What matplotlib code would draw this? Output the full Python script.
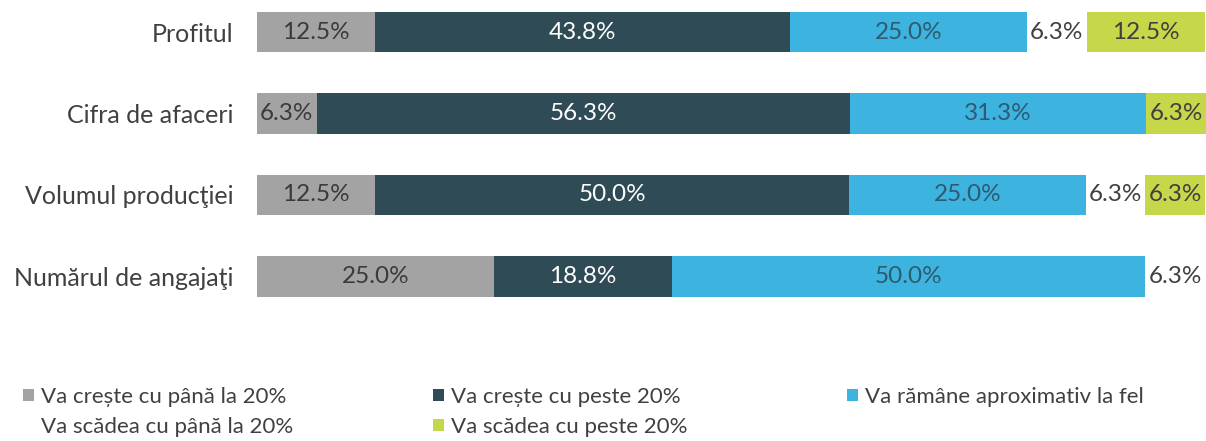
import matplotlib

matplotlib.use("Agg")
import matplotlib.pyplot as plt
from matplotlib.patches import Patch

CATEGORIES = ["Profitul", "Cifra de afaceri", "Volumul producţiei", "Numărul de angajaţi"]
SERIES = [
    "Va crește cu până la 20%",
    "Va crește cu peste 20%",
    "Va rămâne aproximativ la fel",
    "Va scădea cu până la 20%",
    "Va scădea cu peste 20%",
]
CRESTE_PANA = [12.5, 6.3, 12.5, 25.0]
CRESTE_PESTE = [43.8, 56.3, 50.0, 18.8]
RAMANE = [25.0, 31.3, 25.0, 50.0]
SCADE_PANA = [6.3, 0.0, 6.3, 6.3]
SCADE_PESTE = [12.5, 6.3, 6.3, 0.0]

COLORS = ["#a3a3a3", "#2f4b56", "#3db3e0", "#ffffff", "#c6d84a"]
LABEL_COLORS = ["#3a3a3a", "#ffffff", "#2f5a70", "#404040", "#404040"]
TEXT = "#404040"

plt.rcParams["font.family"] = ["Lato", "DejaVu Sans"]

W, H = 1206, 441
fig = plt.figure(figsize=(W / 100, H / 100), dpi=100)
ax = fig.add_axes([257 / W, 1 - 320 / H, 949 / W, 320 / H])

values = [CRESTE_PANA, CRESTE_PESTE, RAMANE, SCADE_PANA, SCADE_PESTE]
ys = list(range(len(CATEGORIES)))
left = [0.0] * len(CATEGORIES)
for vals, color, lc in zip(values, COLORS, LABEL_COLORS):
    ax.barh(ys, vals, left=left, height=0.5, color=color, edgecolor="none")
    for y, l, v in zip(ys, left, vals):
        if v > 0:
            ax.text(l + v / 2, y, f"{v:.1f}%", ha="center", va="center",
                    fontsize=17.5, color=lc)
    left = [a + b for a, b in zip(left, vals)]

ax.set_xlim(0, 100.2)
ax.set_ylim(3.534, -0.393)
ax.set_yticks(ys)
ax.set_yticklabels(CATEGORIES, fontsize=18, color=TEXT)
ax.tick_params(axis="y", length=0, pad=17)
ax.set_xticks([])
for s in ax.spines.values():
    s.set_visible(False)

# legend laid out as three fixed-width columns
handles = [Patch(facecolor=c, edgecolor="none") for c in COLORS]
cols = [([0, 3], 23), ([1, 4], 433), ([2], 847)]
for idx, xpx in cols:
    fig.legend([handles[i] for i in idx], [SERIES[i] for i in idx],
               loc="upper left", bbox_to_anchor=(xpx / W, 1 - 387 / H),
               frameon=False, fontsize=16, labelcolor=TEXT,
               handlelength=0.5, handleheight=0.5, handletextpad=0.3,
               borderpad=0, borderaxespad=0, labelspacing=0.45)

fig.savefig("out.png", dpi=100, facecolor="white")
